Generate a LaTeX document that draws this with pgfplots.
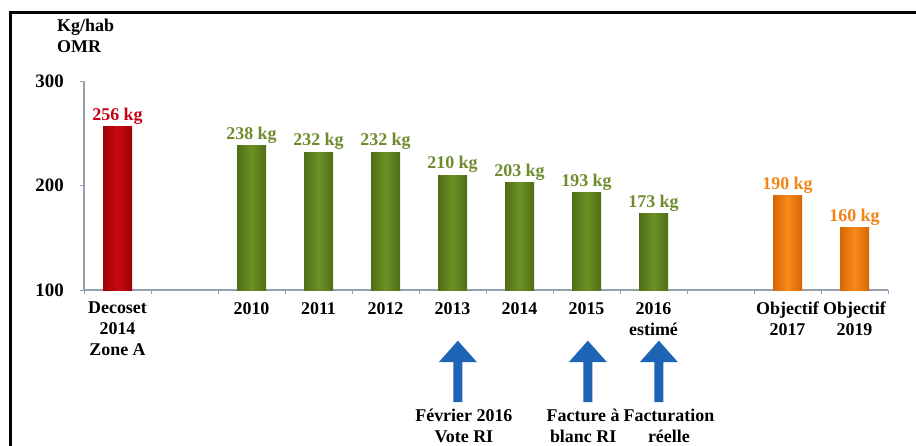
\documentclass[border=0pt]{standalone}
\usepackage{pgfplots}
\pgfplotsset{compat=1.18}
\usepackage{fontspec}
\setmainfont{Liberation Serif}
\definecolor{axisgray}{RGB}{150,160,175}
\definecolor{redD}{RGB}{155,0,5}
\definecolor{redM}{RGB}{200,10,15}
\definecolor{greenD}{RGB}{80,110,22}
\definecolor{greenM}{RGB}{108,145,38}
\definecolor{orangeD}{RGB}{215,100,5}
\definecolor{orangeM}{RGB}{248,140,25}
\definecolor{redT}{RGB}{200,0,20}
\definecolor{greenT}{RGB}{110,140,45}
\definecolor{orangeT}{RGB}{242,132,20}
\definecolor{arrowblue}{RGB}{30,100,180}
\newcommand{\lab}{\fontsize{18}{21}\selectfont\bfseries}
\newcommand{\uparr}[1]{\fill[arrowblue] ([xshift=-4.5bp]axis cs:#1,-7.2) -- ([xshift=-4.5bp]axis cs:#1,31) -- ([xshift=-19bp]axis cs:#1,31) -- (axis cs:#1,51.5) -- ([xshift=19bp]axis cs:#1,31) -- ([xshift=4.5bp]axis cs:#1,31) -- ([xshift=4.5bp]axis cs:#1,-7.2) -- cycle;}
\pgfplotsset{
  redbar/.style={draw=none, left color=redD, right color=redD, middle color=redM,
    every node near coord/.append style={text=redT}},
  greenbar/.style={draw=none, left color=greenD, right color=greenD, middle color=greenM,
    every node near coord/.append style={text=greenT}},
  orangebar/.style={draw=none, left color=orangeD, right color=orangeD, middle color=orangeM,
    every node near coord/.append style={text=orangeT}},
}
\begin{document}
\begin{tikzpicture}[x=1bp,y=1bp]
\useasboundingbox (0,0) rectangle (916,-446);
\draw[line width=3bp] (10,-446) -- (10,-13) -- (916,-13);
\node[anchor=base west, inner sep=0pt, font=\lab] at (57,-32) {Kg/hab};
\node[anchor=base west, inner sep=0pt, font=\lab] at (57,-53) {OMR};
\begin{axis}[
  at={(84bp,-290bp)}, anchor=south west,
  scale only axis, width=804bp, height=209bp,
  xmin=-0.5, xmax=11.5, ymin=100, ymax=300,
  axis x line*=bottom, axis y line*=left,
  axis line style={axisgray, line width=1.5bp},
  clip=false,
  /pgf/number format/assume math mode=true,
  ybar, bar width=29bp, bar shift=0pt,
  xtick={0,2,3,4,5,6,7,8,10,11},
  xticklabels={{Decoset\\2014\\Zone A},2010,2011,2012,2013,2014,2015,{2016\\estimé},{Objectif\\2017},{Objectif\\2019}},
  xticklabel style={align=center, font=\lab, anchor=north, inner sep=0pt, yshift=-8bp},
  major x tick style={draw=none},
  minor xtick={-0.5,0.5,...,11.5},
  minor x tick style={axisgray, line width=1bp},
  minor tick length=4bp,
  tick align=outside,
  ytick={100,200,300},
  ytick style={axisgray, line width=1bp},
  major tick length=4bp,
  yticklabel style={font=\fontsize{19}{21}\selectfont\bfseries, anchor=east, inner sep=0pt, xshift=-16bp},
  nodes near coords={\pgfmathprintnumber{\pgfplotspointmeta}~kg},
  nodes near coords style={font=\lab, anchor=south, inner sep=2bp},
]
\addplot[redbar] coordinates {(0,256)};
\addplot[greenbar] coordinates {(2,238)};
\addplot[greenbar] coordinates {(3,232)};
\addplot[greenbar] coordinates {(4,232)};
\addplot[greenbar] coordinates {(5,210)};
\addplot[greenbar] coordinates {(6,203)};
\addplot[greenbar] coordinates {(7,193)};
\addplot[greenbar] coordinates {(8,173)};
\addplot[orangebar] coordinates {(10,190)};
\addplot[orangebar] coordinates {(11,160)};
\uparr{5.08}
\uparr{7.02}
\uparr{8.08}
\node[anchor=base, inner sep=0pt, font=\lab] at (axis cs:5.17,-26.3) {Février 2016};
\node[anchor=base, inner sep=0pt, font=\lab] at (axis cs:5.17,-46.4) {Vote RI};
\node[anchor=base, inner sep=0pt, font=\lab] at (axis cs:6.95,-26.3) {Facture à};
\node[anchor=base, inner sep=0pt, font=\lab] at (axis cs:6.95,-46.4) {blanc RI};
\node[anchor=base, inner sep=0pt, font=\lab] at (axis cs:8.23,-26.3) {Facturation};
\node[anchor=base, inner sep=0pt, font=\lab] at (axis cs:8.23,-46.4) {réelle};
\end{axis}
\end{tikzpicture}
\end{document}
